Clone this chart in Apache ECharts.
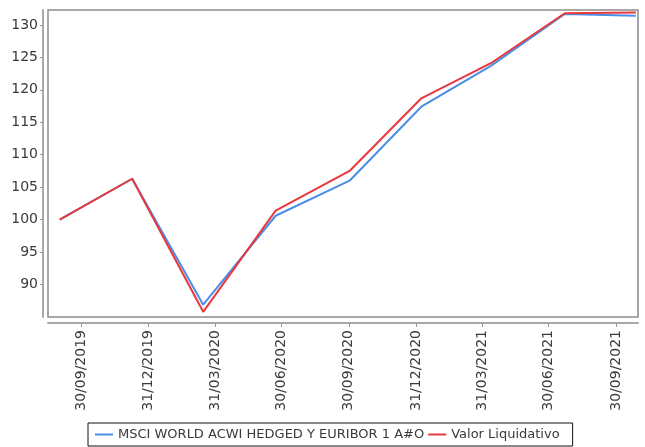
<!DOCTYPE html>
<html>
<head>
<meta charset="utf-8">
<script src="https://cdn.jsdelivr.net/npm/echarts@6/dist/echarts.min.js"></script>
<style>html,body{margin:0;padding:0;background:#fff}#c{width:645px;height:447px}</style>
</head>
<body>
<div id="c"></div>
<script>
var dates = ['2019-09-01','2019-12-09','2020-03-15','2020-06-22','2020-10-01','2021-01-07','2021-04-12','2021-07-22','2021-10-27'];
var msciValues = [100, 106.3, 86.9, 100.6, 106.0, 117.4, 123.7, 131.7, 131.4];
var valorValues = [100, 106.3, 85.8, 101.4, 107.5, 118.7, 124.1, 131.8, 131.9];
var tickDates = ['2019-09-30','2019-12-31','2020-03-31','2020-06-30','2020-09-30','2020-12-31','2021-03-31','2021-06-30','2021-09-30'];
var seriesNames = ['MSCI WORLD ACWI HEDGED Y EURIBOR 1 A#O', 'Valor Liquidativo'];

function ts(s){ var p = s.split('-'); return Date.UTC(+p[0], +p[1]-1, +p[2]); }
function pad(n){ return (n<10?'0':'')+n; }
function fmt(v){ var d = new Date(v); return pad(d.getUTCDate())+'/'+pad(d.getUTCMonth()+1)+'/'+d.getUTCFullYear(); }

var FONT = 'DejaVu Sans';
var tickTs = tickDates.map(ts);
var chart = echarts.init(document.getElementById('c'));
chart.setOption({
  animation: false,
  grid: {left: 48, right: 7, top: 10, bottom: 130, show: true, borderColor: '#8c8c8c', borderWidth: 1.5, backgroundColor: '#fff'},
  xAxis: {
    type: 'value',
    min: ts('2019-08-16'),
    max: ts('2021-10-30'),
    offset: 6,
    axisLine: {show: true, onZero: false, lineStyle: {color: '#a8a8a8', width: 2}},
    axisTick: {show: true, customValues: tickTs, length: 4, lineStyle: {color: '#999'}},
    axisLabel: {customValues: tickTs, rotate: 90, margin: 7, color: '#3a3a3a', fontSize: 14, fontFamily: FONT, formatter: function(v){ return fmt(v); }},
    splitLine: {show: false}
  },
  yAxis: {
    type: 'value',
    min: 85,
    max: 132.3,
    interval: 5,
    offset: 5,
    axisLine: {show: true, onZero: false, lineStyle: {color: '#a8a8a8', width: 2}},
    axisTick: {show: true, length: 3, lineStyle: {color: '#999'}},
    axisLabel: {showMinLabel: false, showMaxLabel: false, margin: 5, color: '#3a3a3a', fontSize: 14, fontFamily: FONT,
      formatter: function(v){ return (v < 86 || v > 131) ? '' : String(v); }},
    splitLine: {show: false}
  },
  legend: {
    left: 88, top: 423,
    padding: [5, 13, 5, 7],
    borderColor: '#111', borderWidth: 1,
    itemWidth: 18, itemHeight: 2, itemGap: 4,
    icon: 'rect',
    textStyle: {fontSize: 13, color: '#3a3a3a', fontFamily: FONT},
    data: [seriesNames[0], seriesNames[1]]
  },
  series: [
    {name: seriesNames[0], type: 'line', symbol: 'none', color: '#4a8ee8', lineStyle: {width: 2, color: '#4a8ee8'},
     data: dates.map(function(d,i){ return [ts(d), msciValues[i]]; })},
    {name: seriesNames[1], type: 'line', symbol: 'none', color: '#e8383c', lineStyle: {width: 2, color: '#e8383c'},
     data: dates.map(function(d,i){ return [ts(d), valorValues[i]]; })}
  ]
});
</script>
</body>
</html>
